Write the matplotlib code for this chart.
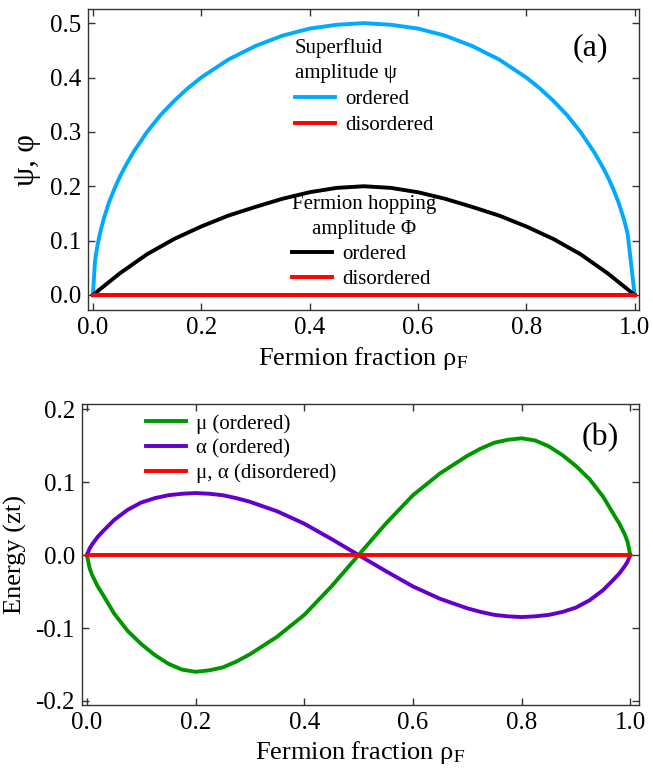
import numpy as np
import matplotlib
matplotlib.use("Agg")
import matplotlib.pyplot as plt

plt.rcParams['font.family'] = ['Liberation Serif', 'DejaVu Serif']
plt.rcParams['mathtext.fontset'] = 'stix'
plt.rcParams['axes.unicode_minus'] = False

# ---- panel (a) data ----
rho_psi = [0.0, 0.004, 0.008, 0.013, 0.02, 0.03, 0.04, 0.05, 0.06, 0.075, 0.1, 0.125, 0.15,
           0.175, 0.2, 0.25, 0.3, 0.35, 0.4, 0.45, 0.5, 0.55, 0.6, 0.65, 0.7, 0.75, 0.8,
           0.825, 0.85, 0.875, 0.9, 0.925, 0.94, 0.95, 0.96, 0.97, 0.98, 0.987, 1.0]
psi_ordered = [0.0, 0.063, 0.089, 0.113, 0.140, 0.171, 0.196, 0.218, 0.237, 0.263, 0.300,
               0.331, 0.357, 0.380, 0.400, 0.433, 0.458, 0.477, 0.490, 0.497, 0.500, 0.497,
               0.490, 0.477, 0.458, 0.433, 0.400, 0.380, 0.357, 0.331, 0.300, 0.263, 0.237,
               0.218, 0.196, 0.171, 0.140, 0.113, 0.0]

rho_phi = [0.0, 0.05, 0.1, 0.15, 0.2, 0.25, 0.3, 0.35, 0.4, 0.45, 0.5,
           0.55, 0.6, 0.65, 0.7, 0.75, 0.8, 0.85, 0.9, 0.95, 1.0]
phi_ordered = [0.0, 0.040, 0.075, 0.103, 0.126, 0.146, 0.162, 0.177, 0.189, 0.197, 0.200,
               0.197, 0.189, 0.177, 0.162, 0.146, 0.126, 0.103, 0.075, 0.040, 0.0]

rho_dis = [0.0, 1.0]
zero_dis = [0.0, 0.0]

# ---- panel (b) data ----
rho_b = [0.0, 0.005, 0.01, 0.02, 0.03, 0.05, 0.075, 0.1, 0.125, 0.15, 0.175, 0.2, 0.225,
         0.25, 0.275, 0.3, 0.35, 0.4, 0.45, 0.5, 0.55, 0.6, 0.65, 0.7, 0.725, 0.75, 0.775,
         0.8, 0.825, 0.85, 0.875, 0.9, 0.925, 0.95, 0.97, 0.98, 0.99, 0.995, 1.0]
mu_ordered = [0.0, -0.018, -0.028, -0.043, -0.055, -0.080, -0.104, -0.122, -0.137, -0.149,
              -0.157, -0.160, -0.158, -0.154, -0.146, -0.136, -0.112, -0.082, -0.043, 0.0,
              0.043, 0.082, 0.112, 0.136, 0.146, 0.154, 0.158, 0.160, 0.157, 0.149, 0.137,
              0.122, 0.104, 0.080, 0.055, 0.043, 0.028, 0.018, 0.0]
alpha_ordered = [0.0, 0.009, 0.015, 0.025, 0.033, 0.048, 0.062, 0.072, 0.078, 0.082, 0.084,
                 0.085, 0.084, 0.082, 0.078, 0.073, 0.060, 0.043, 0.022, 0.0, -0.022, -0.043,
                 -0.060, -0.073, -0.078, -0.082, -0.084, -0.085, -0.084, -0.082, -0.078,
                 -0.072, -0.062, -0.048, -0.033, -0.025, -0.015, -0.009, 0.0]

xticks = [0.0, 0.2, 0.4, 0.6, 0.8, 1.0]
yticks_a = [0.0, 0.1, 0.2, 0.3, 0.4, 0.5]
yticks_b = [-0.2, -0.1, 0.0, 0.1, 0.2]

BLUE = '#00AAFF'
RED = '#FF0000'
GREEN = '#009600'
PURPLE = '#6400CC'
LW = 2.8
TICK_FS = 18
LAB_FS = 19
LEG_FS = 15

fig = plt.figure(figsize=(6.53, 7.72), dpi=100)
W, H = 653, 772
def box(l, t, r, b):
    return [l / W, 1 - b / H, (r - l) / W, (b - t) / H]

axa = fig.add_axes(box(88, 9, 639, 310))
axb = fig.add_axes(box(82, 404, 639, 705))

for ax in (axa, axb):
    ax.tick_params(direction='in', top=True, right=True, length=5, width=1,
                   labelsize=TICK_FS, pad=5, color='#333333')
    for s in ax.spines.values():
        s.set_linewidth(1.0)
        s.set_color('#333333')
    ax.set_xticks(xticks)
    ax.set_xticklabels([f"{v:.1f}" for v in xticks])

# panel (a)
l1, = axa.plot(rho_psi, psi_ordered, color=BLUE, lw=LW, label='ordered')
l3, = axa.plot(rho_phi, phi_ordered, color='black', lw=LW, label='ordered')
l2, = axa.plot(rho_dis, zero_dis, color=RED, lw=LW, label='disordered')
l4, = axa.plot(rho_dis, zero_dis, color=RED, lw=LW, label='disordered')
axa.set_xlim(-0.009, 1.008)
axa.set_ylim(-0.0276, 0.526)
axa.set_yticks(yticks_a)
axa.set_yticklabels([f"{v:.1f}" for v in yticks_a])
axa.set_xlabel('Fermion fraction ρ$_\\mathrm{F}$', fontsize=LAB_FS, labelpad=4)
axa.set_ylabel('ψ, φ', fontsize=LAB_FS + 3, labelpad=6)

def px_a(x, y):
    return ((x - 88) / 551, (310 - y) / 301)

def px_b(x, y):
    return ((x - 82) / 557, (705 - y) / 301)

leg1 = axa.legend(handles=[l1, l2], title='Superfluid\namplitude ψ', loc='upper left',
                  bbox_to_anchor=px_a(295, 38), frameon=False, fontsize=LEG_FS,
                  title_fontsize=LEG_FS, borderpad=0, borderaxespad=0, handlelength=1.9,
                  handletextpad=0.5, labelspacing=0.3, alignment='left')
leg1.get_title().set_multialignment('left')
leg1.get_title().set_linespacing(1.45)
axa.add_artist(leg1)
leg2 = axa.legend(handles=[l3, l4], title='Fermion hopping\namplitude Φ', loc='upper left',
                  bbox_to_anchor=px_a(292, 195), frameon=False, fontsize=LEG_FS,
                  title_fontsize=LEG_FS, borderpad=0, borderaxespad=0, handlelength=1.9,
                  handletextpad=0.5, labelspacing=0.25, alignment='left')
leg2.get_title().set_multialignment('center')
leg2.get_title().set_linespacing(1.45)
axa.text(*px_a(590, 48), '(a)', transform=axa.transAxes, fontsize=23, ha='center', va='center')

# panel (b)
g, = axb.plot(rho_b, mu_ordered, color=GREEN, lw=LW, label='μ (ordered)')
p, = axb.plot(rho_b, alpha_ordered, color=PURPLE, lw=LW, label='α (ordered)')
r, = axb.plot(rho_dis, zero_dis, color=RED, lw=LW, label='μ, α (disordered)')
axb.set_xlim(-0.009, 1.016)
axb.set_ylim(-0.2055, 0.207)
axb.set_yticks(yticks_b)
axb.set_yticklabels([f"{v:.1f}" for v in yticks_b])
axb.set_xlabel('Fermion fraction ρ$_\\mathrm{F}$', fontsize=LAB_FS, labelpad=4)
axb.set_ylabel('Energy (zt)', fontsize=LAB_FS, labelpad=6)
axb.legend(handles=[g, p, r], loc='upper left', bbox_to_anchor=px_b(146, 414), frameon=False,
           fontsize=LEG_FS, borderpad=0, borderaxespad=0, handlelength=1.9,
           handletextpad=0.5, labelspacing=0.25)
axb.text(*px_b(600, 438), '(b)', transform=axb.transAxes, fontsize=23, ha='center', va='center')

fig.savefig('out.png', dpi=100)
